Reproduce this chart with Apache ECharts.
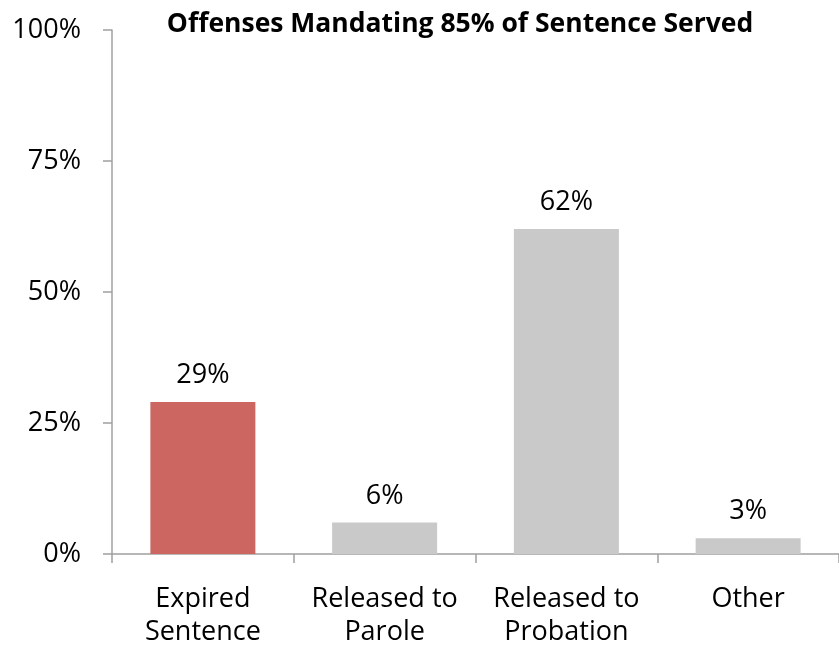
<!DOCTYPE html>
<html><head><meta charset="utf-8">
<script src="https://cdn.jsdelivr.net/npm/echarts@6/dist/echarts.min.js"></script>
<style>html,body{margin:0;padding:0;background:#fff}#c{width:839px;height:649px}</style>
</head><body><div id="c"></div>
<script>
var categories = ['Expired\nSentence', 'Released to\nParole', 'Released to\nProbation', 'Other'];
var values = [29, 6, 62, 3];
var barColors = ['#CC6661', '#C9C9C9', '#C9C9C9', '#C9C9C9'];
var yTicks = [0, 25, 50, 75, 100];

var font = 'Open Sans';
var chart = echarts.init(document.getElementById('c'));
chart.setOption({
  animation: false,
  title: {
    text: 'Offenses Mandating 85% of Sentence Served',
    left: 455, top: 6, textAlign: 'center',
    textStyle: {fontFamily: font, fontWeight: 'bold', fontSize: 26.5, color: '#000'}
  },
  grid: {left: 112, top: 30, width: 732, height: 525},
  xAxis: {
    type: 'category', data: categories,
    axisLine: {lineStyle: {color: '#A0A0A0', width: 1.5}},
    axisTick: {show: true, length: 9, alignWithLabel: false, lineStyle: {color: '#A0A0A0', width: 1.5}},
    axisLabel: {fontFamily: font, fontSize: 27, color: '#000', margin: 29, lineHeight: 33, interval: 0}
  },
  yAxis: {
    type: 'value', min: yTicks[0], max: yTicks[yTicks.length - 1], interval: 25,
    splitLine: {show: false},
    axisLine: {show: true, lineStyle: {color: '#A0A0A0', width: 1.5}},
    axisTick: {show: true, length: 9, lineStyle: {color: '#A0A0A0', width: 1.5}},
    axisLabel: {fontFamily: font, fontSize: 27, color: '#000', margin: 31,
      formatter: function(v){ return v + '%'; }}
  },
  series: [{
    type: 'bar', barWidth: 105,
    data: values.map(function(v, i){ return {value: v, itemStyle: {color: barColors[i]}}; }),
    label: {show: true, position: 'top', distance: 13, fontFamily: font, fontSize: 27, color: '#000',
      formatter: function(p){ return p.value + '%'; }}
  }]
});
</script></body></html>
